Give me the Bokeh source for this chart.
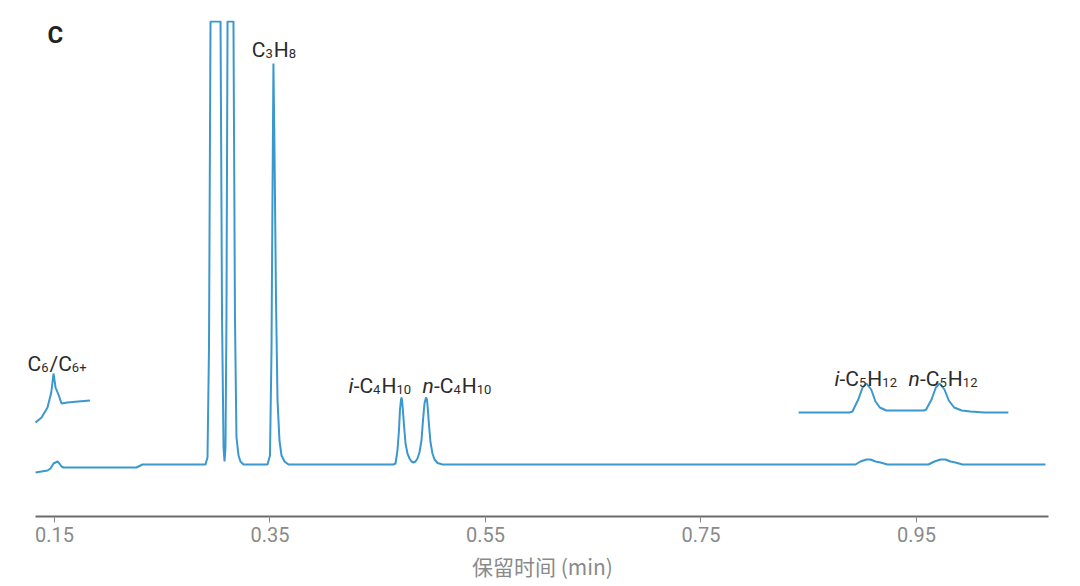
from bokeh.plotting import figure
from bokeh.models import Range1d, FixedTicker, Label
from bokeh.embed import file_html
from bokeh.resources import INLINE

# ---- data (retention time in min, detector signal in arbitrary units) ----
trace_t = [0.1324, 0.1379, 0.1435, 0.1463, 0.1491, 0.1528, 0.1546, 0.1565, 0.1584,
           0.2261, 0.2317,
           0.2901, 0.2920, 0.2934, 0.2948, 0.3041, 0.3055, 0.3069, 0.3078, 0.3087,
           0.3096, 0.3106, 0.3161, 0.3175, 0.3189, 0.3208, 0.3226, 0.3254,
           0.3477, 0.3500, 0.3514, 0.3523, 0.3532, 0.3542, 0.3556, 0.3570, 0.3588,
           0.3607, 0.3635, 0.3672,
           0.4646, 0.4665, 0.4683, 0.4697, 0.4706, 0.4716, 0.4720, 0.4725, 0.4734,
           0.4744, 0.4758, 0.4776, 0.4795, 0.4813, 0.4832, 0.4850, 0.4869, 0.4887,
           0.4906, 0.4920, 0.4934, 0.4948, 0.4957, 0.4966, 0.4976, 0.4990, 0.5008,
           0.5027, 0.5055, 0.5101,
           0.8934, 0.8980, 0.9036, 0.9073, 0.9120, 0.9166, 0.9231,
           0.9611, 0.9667, 0.9723, 0.9770, 0.9816, 0.9862, 0.9927, 1.0697]
trace_v = [-5, -4, -3, -1, 4, 6, 4, 1, 0,
           0, 3,
           3, 10, 120, 446, 446, 150, 20, 6, 20,
           150, 446, 446, 150, 30, 12, 6, 3,
           3, 12, 117, 267, 404, 317, 167, 67, 27,
           12, 6, 3,
           3, 4, 17, 37, 57, 68, 70, 68, 57,
           42, 24, 14, 9, 6, 5, 6, 9, 15,
           27, 47, 64, 70, 68, 57, 42, 25, 14,
           8, 4.5, 3,
           3, 6, 8, 8, 6, 5, 3,
           3, 6, 8, 8, 6, 5, 3, 3]

# magnified insets
c6_inset_t = [0.1324, 0.1380, 0.1435, 0.1470, 0.1491, 0.1510, 0.1540, 0.1565, 0.1620, 0.1720, 0.1830]
c6_inset_v = [45, 50, 60, 75, 94, 80, 72, 64, 65, 66, 67]

c5_inset_t = [0.8406, 0.8878, 0.8906, 0.8960, 0.9000, 0.9036, 0.9080, 0.9120, 0.9160, 0.9220,
              0.9570, 0.9590, 0.9640, 0.9680, 0.9716, 0.9760, 0.9800, 0.9850, 0.9920, 1.0000,
              1.0130, 1.0353]
c5_inset_v = [55, 55, 56, 68, 80, 84, 78, 66, 60, 57,
              57, 58, 68, 80, 84, 78, 67, 60, 57, 56,
              55, 55]

label_prefix = ["", "", "i", "n", "i", "n"]
label_body = ["C₆/C₆₊", "C₃H₈", "-C₄H₁₀", "-C₄H₁₀", "-C₅H₁₂", "-C₅H₁₂"]

tick_values = [0.15, 0.35, 0.55, 0.75, 0.95]
x_title = "保留时间 (min)"
panel_letter = "C"

# ---- layout / style ----
LINE = "#3b98cf"
TXT = "#2b2b2b"
MAIN_PX, SUB_PX = 21, 13
SUB_DROP = -4
AXIS_START, AXIS_END = 0.1324, 1.0725
# anchor (time, signal baseline, alignment)
label_pos = [(0.1528, 104, "center"), (0.3542, 418, "center"), (0.4229, 82, "left"),
             (0.4915, 82, "left"), (0.8739, 89, "left"), (0.9426, 89, "left")]

SUBS = {"₀": "0", "₁": "1", "₂": "2", "₃": "3", "₄": "4", "₅": "5", "₆": "6",
        "₇": "7", "₈": "8", "₉": "9", "₊": "+"}
ADV = {"C": 0.652, "H": 0.713, "-": 0.276, "/": 0.412, "+": 0.567, "i": 0.243, "n": 0.551}


def adv(ch):
    return ADV.get(ch, 0.562)


def runs(prefix, body):
    out = []
    if prefix:
        out.append((prefix, "italic"))
    for ch in body:
        kind = "sub" if ch in SUBS else "main"
        c = SUBS.get(ch, ch)
        if out and out[-1][1] == kind:
            out[-1] = (out[-1][0] + c, kind)
        else:
            out.append((c, kind))
    return out


def run_width(text, kind):
    size = SUB_PX if kind == "sub" else MAIN_PX
    return sum(adv(c) for c in text) * size + (1 if kind == "sub" else 0)


p = figure(width=1064, height=584, output_backend="svg", toolbar_location=None,
           x_range=Range1d(0.11845, 1.0874), y_range=Range1d(-49, 447),
           y_axis_location=None, min_border_left=20, min_border_right=0,
           min_border_top=20, min_border_bottom=68)
p.outline_line_color = None
p.xgrid.visible = False
p.ygrid.visible = False
p.background_fill_color = "white"
p.border_fill_color = "white"

p.line(trace_t, trace_v, line_color=LINE, line_width=2)
p.line(c6_inset_t, c6_inset_v, line_color=LINE, line_width=2)
p.line(c5_inset_t, c5_inset_v, line_color=LINE, line_width=2)

ax = p.xaxis[0]
ax.bounds = (AXIS_START, AXIS_END)
ax.ticker = FixedTicker(ticks=tick_values)
ax.major_label_overrides = {v: f"{v:.2f}" for v in tick_values}
ax.axis_line_color = "#6b6b6b"
ax.axis_line_width = 2
ax.major_tick_line_color = "#8a8a8a"
ax.major_tick_out = 6
ax.major_tick_in = 0
ax.minor_tick_line_color = None
ax.major_label_text_font = "Roboto"
ax.major_label_text_font_size = "20px"
ax.major_label_text_color = "#8a8a8a"
ax.major_label_standoff = 4
ax.axis_label = x_title
ax.axis_label_text_font = "Noto Sans CJK SC"
ax.axis_label_text_font_size = "21px"
ax.axis_label_text_font_style = "normal"
ax.axis_label_text_color = "#8a8a8a"
ax.axis_label_standoff = 6

for pre, body, (lx, ly, al) in zip(label_prefix, label_body, label_pos):
    rs = runs(pre, body)
    total = sum(run_width(t, k) for t, k in rs)
    off = -total / 2 if al == "center" else 0.0
    for t, k in rs:
        p.add_layout(Label(x=lx, y=ly, x_offset=off, y_offset=(SUB_DROP if k == "sub" else 0),
                           text=t, text_align="left", text_baseline="alphabetic",
                           text_font="Roboto",
                           text_font_style=("italic" if k == "italic" else "normal"),
                           text_font_size=f"{SUB_PX if k == 'sub' else MAIN_PX}px",
                           text_color=TXT))
        off += run_width(t, k)

p.add_layout(Label(x=0.1435, y=447, text=panel_letter, text_align="left", text_baseline="top",
                   text_font="Roboto", text_font_style="bold", text_font_size="24px",
                   text_color="#222222"))

open("out.html", "w").write(file_html(p, INLINE))
